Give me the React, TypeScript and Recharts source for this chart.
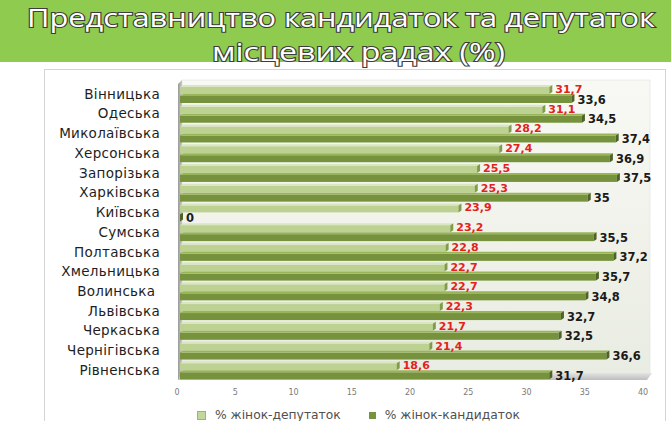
import React from 'react';
import * as R from 'recharts';

const { BarChart, Bar, XAxis, YAxis, LabelList } = R as any;

const regions = [
  'Вінницька', 'Одеська', 'Миколаївська', 'Херсонська', 'Запорізька',
  'Харківська', 'Київська', 'Сумська', 'Полтавська', 'Хмельницька',
  'Волинська\u00a0', 'Львівська', 'Черкаська', 'Чернігівська', 'Рівненська',
];
const deputies = [31.7, 31.1, 28.2, 27.4, 25.5, 25.3, 23.9, 23.2, 22.8, 22.7, 22.7, 22.3, 21.7, 21.4, 18.6];
const candidates = [33.6, 34.5, 37.4, 36.9, 37.5, 35, 0, 35.5, 37.2, 35.7, 34.8, 32.7, 32.5, 36.6, 31.7];
const xTicks = [0, 5, 10, 15, 20, 25, 30, 35, 40];
const seriesNames = ['% жінок-депутаток', '% жінок-кандидаток'];
const titleLines = ['Представництво кандидаток та депутаток', 'місцевих радах (%)'];

const data = regions.map((name, i) => ({ name, dep: deputies[i], cand: candidates[i] }));

const fmt = (v: number) => String(v).replace('.', ',');

const DX = 3;
const DY = 2;

function makeBar3D(body: string, top: string, side: string) {
  return (props: any) => {
    const { x, y, width, height } = props;
    const w = Math.max(width || 0, 0);
    return (
      <g>
        <rect x={x} y={y + DY} width={w} height={height - DY} fill={body} />
        <polygon
          points={`${x},${y + DY} ${x + DX},${y} ${x + w + DX},${y} ${x + w},${y + DY}`}
          fill={top}
        />
        <polygon
          points={`${x + w},${y + DY} ${x + w + DX},${y} ${x + w + DX},${y + height - DY} ${x + w},${y + height}`}
          fill={side}
        />
      </g>
    );
  };
}

const LightBar = makeBar3D('#bcd192', '#dae6c1', '#7f9c47');
const DarkBar = makeBar3D('#76923c', '#98b55a', '#4f6228');

const usePA: any = (R as any).usePlotArea;

function Walls() {
  const area = usePA ? usePA() : null;
  const a = area || { x: 180, y: 84, width: 466, height: 296 };
  const { x, y, width: w, height: h } = a;
  const d = 4;
  return (
    <g>
      <defs>
        <linearGradient id="wallG" x1="0" y1="0" x2="0" y2="1">
          <stop offset="0%" stopColor="#f8f9f4" />
          <stop offset="100%" stopColor="#e9ece2" />
        </linearGradient>
        <linearGradient id="sideG" x1="0" y1="0" x2="1" y2="0">
          <stop offset="0%" stopColor="#9a9a9a" />
          <stop offset="100%" stopColor="#c8c8c8" />
        </linearGradient>
        <linearGradient id="floorG" x1="0" y1="0" x2="0" y2="1">
          <stop offset="0%" stopColor="#e4e4e4" />
          <stop offset="100%" stopColor="#bdbdbd" />
        </linearGradient>
      </defs>
      <rect x={x + 2} y={y - d} width={w + 2} height={h - 2} fill="url(#wallG)" stroke="#e2e2e2" strokeWidth={0.6} />
      <polygon
        points={`${x - 2},${y} ${x + 2},${y - d} ${x + 2},${y + h - d} ${x - 2},${y + h}`}
        fill="url(#sideG)"
      />
      <polygon
        points={`${x - 2},${y + h} ${x + 2},${y + h - d - 3} ${x + w + 6},${y + h - d - 3} ${x + w + 1},${y + h}`}
        fill="url(#floorG)"
      />
    </g>
  );
}

const RedLabel = (props: any) => {
  const { x, y, width, height, value } = props;
  return (
    <text
      x={x + width + DX + 3}
      y={y + height / 2}
      dominantBaseline="central"
      fill="#e3221c"
      fontFamily="'DejaVu Sans', sans-serif"
      fontWeight="bold"
      fontSize={11}
    >
      {fmt(value)}
    </text>
  );
};

const BlackLabel = (props: any) => {
  const { x, y, width, height, value } = props;
  return (
    <text
      x={x + width + DX + 3}
      y={y + height / 2 + 1}
      dominantBaseline="central"
      fill="#1a1a1a"
      fontFamily="'DejaVu Sans', sans-serif"
      fontWeight="bold"
      fontSize={11.5}
    >
      {fmt(value)}
    </text>
  );
};

export default function App() {
  return (
    <div
      style={{
        position: 'fixed',
        left: 0,
        top: 0,
        width: 671,
        height: 421,
        background: '#ffffff',
        overflow: 'hidden',
        fontFamily: "'DejaVu Sans', sans-serif",
      }}
    >
      <div
        style={{
          position: 'absolute',
          left: 44,
          top: 69,
          width: 622,
          height: 360,
          border: '1px solid #d4d4d4',
          boxSizing: 'border-box',
        }}
      />
      <div style={{ position: 'absolute', left: 0, top: 0 }}>
        <BarChart
          width={671}
          height={421}
          data={data}
          layout="vertical"
          margin={{ top: 84, right: 25, bottom: 21, left: 0 }}
          barSize={9}
          barGap={0}
        >
          <Walls />
          <XAxis
            type="number"
            domain={[0, 40]}
            ticks={xTicks}
            height={20}
            axisLine={false}
            tickLine={false}
            tickSize={0}
            tickMargin={9}
            tick={{ fontSize: 8, fill: '#7a7a7a', dx: -3, fontFamily: "'DejaVu Sans', sans-serif" }}
            interval={0}
          />
          <YAxis
            type="category"
            dataKey="name"
            width={180}
            axisLine={false}
            tickLine={false}
            tickSize={0}
            tickMargin={20}
            interval={0}
            tick={{ fontSize: 13.5, fill: '#1e1e1e', letterSpacing: 0.3, fontFamily: "'DejaVu Sans', sans-serif" }}
          />
          <Bar dataKey="dep" name={seriesNames[0]} shape={LightBar} isAnimationActive={false}>
            <LabelList dataKey="dep" content={RedLabel} />
          </Bar>
          <Bar dataKey="cand" name={seriesNames[1]} shape={DarkBar} isAnimationActive={false}>
            <LabelList dataKey="cand" content={BlackLabel} />
          </Bar>
        </BarChart>
      </div>
      <svg
        width={671}
        height={80}
        style={{ position: 'absolute', left: 0, top: 0 }}
      >
        <rect x={0} y={0} width={671} height={62} fill="#8ecb4f" />
        <text
          x={27}
          y={27}
          textLength={628}
          lengthAdjust="spacingAndGlyphs"
          fontFamily="'Open Sans', sans-serif"
          fontSize={25}
          fill="#ffffff"
          stroke="#3c3c3c"
          strokeWidth={2}
          paintOrder="stroke"
        >
          {titleLines[0]}
        </text>
        <text
          x={212}
          y={61}
          textLength={293}
          lengthAdjust="spacingAndGlyphs"
          fontFamily="'Open Sans', sans-serif"
          fontSize={25}
          fill="#ffffff"
          stroke="#3c3c3c"
          strokeWidth={2}
          paintOrder="stroke"
        >
          {titleLines[1]}
        </text>
      </svg>
      <div
        style={{
          position: 'absolute',
          left: 197,
          top: 407,
          display: 'flex',
          alignItems: 'center',
          fontSize: 12.3,
          color: '#505050',
          lineHeight: '16px',
          whiteSpace: 'nowrap',
        }}
      >
        <span style={{ width: 7, height: 7, background: '#c3d69b', border: '0.5px solid #9bbb59', display: 'inline-block', marginRight: 9 }} />
        <span style={{ marginRight: 28 }}>{seriesNames[0]}</span>
        <span style={{ width: 7, height: 7, background: '#77933c', display: 'inline-block', marginRight: 9 }} />
        <span>{seriesNames[1]}</span>
      </div>
    </div>
  );
}
